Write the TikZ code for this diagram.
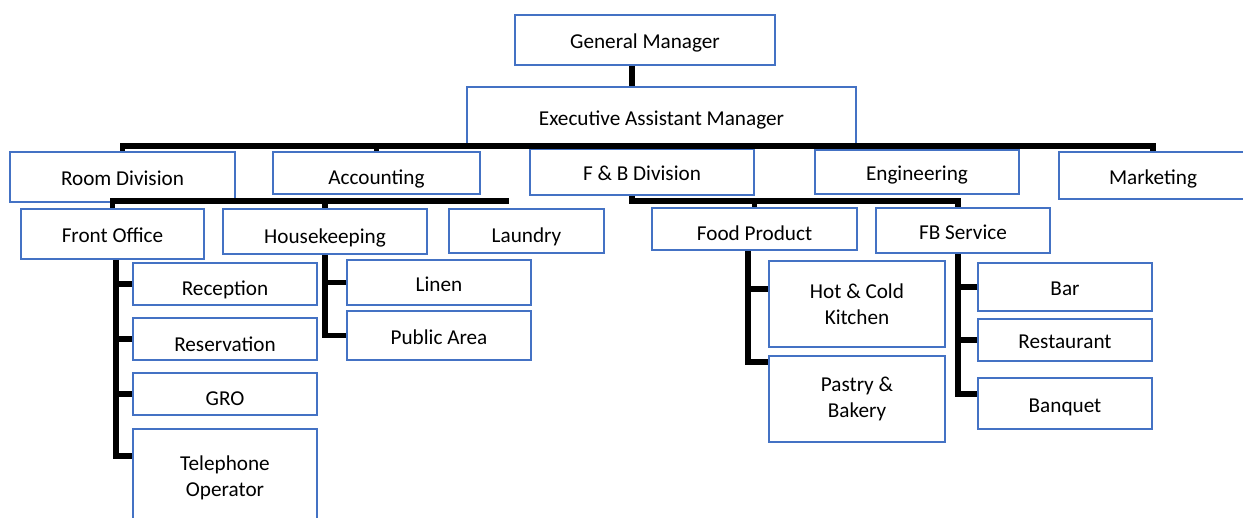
\documentclass[tikz,border=0pt]{standalone}
\usepackage{fontspec}
\setmainfont{Carlito}
\definecolor{boxblue}{HTML}{4472C4}

\begin{document}
\begin{tikzpicture}
  [x=0.5pt,y=-0.5pt,
   every node/.style={rectangle,draw=boxblue,line width=1pt,inner sep=0pt,align=center,
     font=\fontsize{10.6}{13}\selectfont,text height=11.5pt,text depth=2.5pt},
   box/.style 2 args={minimum width=#1*0.5pt,minimum height=#2*0.5pt},
   sunk/.style={text height=14.5pt},
   twoline/.style={text height=,text depth=},
   link/.style={line width=2.6pt}]
  \useasboundingbox (0,0) rectangle (1243,518);

  \node [box={260}{50}] (gm) at (645,40) {General Manager};
  \node [box={389}{59}] (eam) at (661.5,116.5) {Executive Assistant Manager};

  \node [box={225}{50}] (rd) at (122.5,177) {Room Division};
  \node [box={207}{42},sunk] (acc) at (376.5,173) {Accounting};
  \node [box={224}{46}] (fb) at (642,172) {F \& B Division};
  \node [box={204}{44}] (eng) at (917,172) {Engineering};
  \node [box={188}{47}] (mk) at (1153,175.5) {Marketing};

  \node [box={183}{50}] (fo) at (112.5,234) {Front Office};
  \node [box={204}{45},sunk] (hk) at (325,231.5) {Housekeeping};
  \node [box={155}{44},sunk] (lau) at (526.5,231) {Laundry};
  \node [box={205}{42},sunk] (fp) at (754.5,229) {Food Product};
  \node [box={174}{45}] (fs) at (963,230.5) {FB Service};

  \node [box={184}{42},sunk] (rec) at (225,284) {Reception};
  \node [box={184}{42},sunk] (res) at (225,339) {Reservation};
  \node [box={184}{42},sunk] (gro) at (225,394) {GRO};
  \node [box={184}{98},twoline] (tel) at (225,478) {Telephone\\Operator};
  \node [box={184}{45}] (lin) at (439,282.5) {Linen};
  \node [box={184}{49}] (pa) at (439,335.5) {Public Area};
  \node [box={176}{86},twoline] (hc) at (857,304) {Hot \& Cold\\Kitchen};
  \node [box={176}{86},twoline] (pb) at (857,399) {Pastry \&\\Bakery};
  \node [box={174}{48}] (bar) at (1065,287) {Bar};
  \node [box={174}{42}] (rst) at (1065,340) {Restaurant};
  \node [box={174}{51}] (ban) at (1065,403.5) {Banquet};

  % bends of the connectors
  \coordinate (hub) at (632,146);
  \coordinate (rdbar) at (509,201);
  \coordinate (fbbar) at (958,201);
  \coordinate (fot) at (116,456);
  \coordinate (fpt1) at (748,289);
  \coordinate (fpt2) at (748,362);
  \coordinate (fst) at (958,394);

  \draw [link] (gm.south -| hub) -- (eam.north -| hub);
  \draw [link] (rd.north) |- (hub) -| (mk.north);
  \draw [link] (hub) -- (hub |- fb.north);
  \foreach \n in {acc,eng}
    \draw [link] (\n.north) -- (\n.north |- hub);

  \draw [link] (fo.north) |- (rdbar);
  \draw [link] (hk.north) -- (hk.north |- rdbar);
  \draw [link] (fb.south -| hub) |- (fbbar) -- (fbbar |- fs.north);
  \draw [link] (fp.north) -- (fp.north |- fbbar);

  \draw [link] (fo.south -| fot) -- (fot) -- (fot -| tel.west);
  \foreach \n in {rec,res,gro}
    \draw [link] (\n.west) -- (\n.west -| fot);
  \draw [link] (hk.south) |- (pa.west);
  \draw [link] (lin.west) -- (lin.west -| hk.south);
  \draw [link] (fp.south -| fpt1) -- (fpt2) -- (fpt2 -| pb.west);
  \draw [link] (fpt1) -- (fpt1 -| hc.west);
  \draw [link] (fs.south -| fst) -- (fst) -- (fst -| ban.west);
  \foreach \n in {bar,rst}
    \draw [link] (\n.west) -- (\n.west -| fst);

\end{tikzpicture}
\end{document}
